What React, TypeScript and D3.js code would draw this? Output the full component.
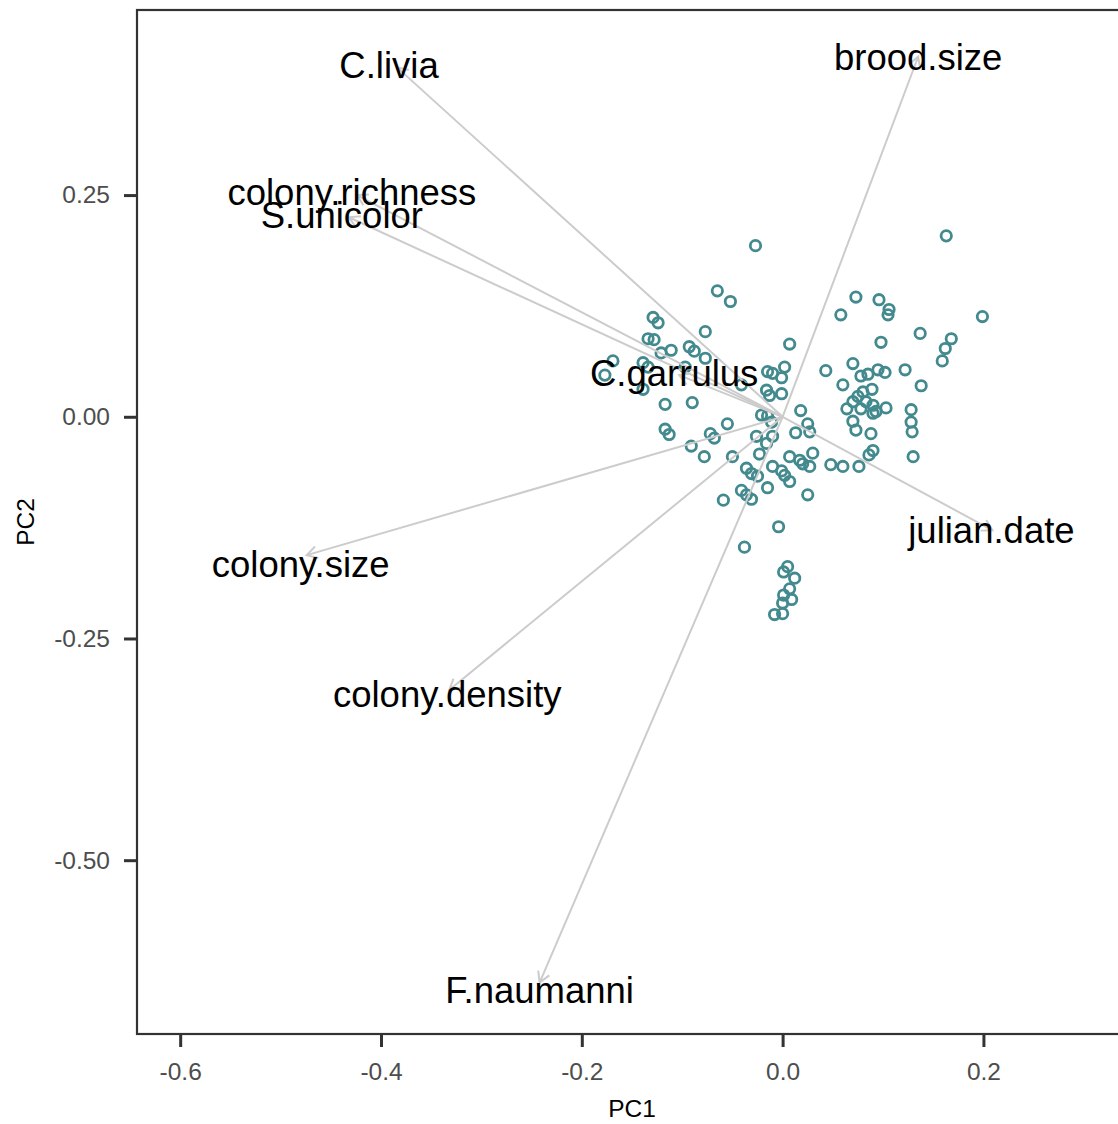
import * as d3 from "d3";
import React, { useRef, useEffect } from "react";

// PCA scores (PC1, PC2)
const scores: [number, number][] = [
  [-0.027, 0.193], [0.163, 0.204], [-0.065, 0.142], [-0.052, 0.13], [0.073, 0.135],
  [0.096, 0.132], [0.106, 0.121], [0.105, 0.115], [0.058, 0.115], [0.199, 0.113],
  [-0.129, 0.112], [-0.124, 0.106], [-0.077, 0.096], [0.137, 0.094], [0.168, 0.088],
  [0.162, 0.077], [0.159, 0.063], [0.098, 0.084], [0.007, 0.082], [-0.134, 0.088],
  [-0.128, 0.087], [-0.093, 0.079], [-0.088, 0.074], [-0.111, 0.075], [-0.121, 0.072],
  [-0.077, 0.066], [-0.169, 0.063], [-0.177, 0.047], [-0.139, 0.061], [-0.134, 0.056],
  [-0.139, 0.031], [-0.117, 0.014], [-0.09, 0.016], [-0.097, 0.056], [-0.041, 0.036],
  [-0.015, 0.051], [-0.01, 0.049], [0.002, 0.056], [-0.001, 0.044], [-0.016, 0.03],
  [-0.013, 0.024], [-0.001, 0.026], [0.043, 0.052], [0.07, 0.06], [0.078, 0.046],
  [0.085, 0.048], [0.095, 0.053], [0.102, 0.05], [0.122, 0.053], [0.06, 0.036],
  [0.089, 0.031], [0.138, 0.035], [0.08, 0.028], [0.075, 0.023], [0.07, 0.017],
  [0.083, 0.017], [0.09, 0.013], [0.064, 0.009], [0.078, 0.009], [0.093, 0.006],
  [0.103, 0.01], [0.128, 0.008], [0.018, 0.007], [-0.021, 0.002], [-0.015, 0.001],
  [-0.011, -0.006], [0.09, 0.004], [0.07, -0.005], [0.073, -0.015], [0.088, -0.019],
  [0.128, -0.006], [0.129, -0.017], [0.13, -0.045], [0.09, -0.038], [0.086, -0.043],
  [0.076, -0.056], [0.06, -0.056], [0.048, -0.054], [0.025, -0.008], [0.027, -0.017],
  [0.013, -0.018], [0.03, -0.041], [0.007, -0.045], [0.017, -0.049], [0.02, -0.053],
  [0.027, -0.056], [0.025, -0.088], [-0.01, -0.022], [-0.026, -0.022], [-0.016, -0.03],
  [-0.023, -0.042], [-0.01, -0.056], [-0.001, -0.061], [0.002, -0.066], [0.007, -0.073],
  [-0.015, -0.08], [-0.036, -0.058], [-0.031, -0.064], [-0.025, -0.067], [-0.041, -0.083],
  [-0.036, -0.088], [-0.031, -0.093], [-0.059, -0.094], [-0.05, -0.045], [-0.055, -0.008],
  [-0.072, -0.019], [-0.068, -0.024], [-0.091, -0.033], [-0.078, -0.045], [-0.117, -0.014],
  [-0.113, -0.02], [-0.004, -0.124], [-0.038, -0.147], [0.005, -0.169], [0.001, -0.175],
  [0.012, -0.182], [0.007, -0.194], [0.001, -0.201], [0.009, -0.206], [0.0, -0.21],
  [-0.008, -0.223], [0.0, -0.222],
];

// variable loadings (arrow tips) and label positions
const varNames = [
  "C.livia", "brood.size", "colony.richness", "S.unicolor", "C.garrulus",
  "colony.size", "colony.density", "julian.date", "F.naumanni",
];
const loadPC1 = [-0.384, 0.135, -0.424, -0.432, -0.103, -0.474, -0.332, 0.209, -0.242];
const loadPC2 = [0.394, 0.406, 0.25, 0.225, 0.047, -0.156, -0.308, -0.128, -0.638];
const labelPC1 = [-0.392, 0.135, -0.429, -0.439, -0.108, -0.48, -0.334, 0.208, -0.242];
const labelPC2 = [0.397, 0.406, 0.253, 0.227, 0.049, -0.166, -0.313, -0.128, -0.646];

const xTicks = [-0.6, -0.4, -0.2, 0.0, 0.2];
const yTicks = [-0.5, -0.25, 0.0, 0.25];

const W = 1118;
const H = 1124;
const FONT = "'Liberation Sans', Arial, sans-serif";

export default function App() {
  const ref = useRef<SVGSVGElement>(null);

  useEffect(() => {
    const svg = d3.select(ref.current);
    svg.selectAll("*").remove();

    const x = d3.scaleLinear().domain([-0.643, 0.343]).range([137, 1127]);
    const y = d3.scaleLinear().domain([-0.696, 0.4587]).range([1034, 10]);

    // points
    svg
      .append("g")
      .selectAll("circle")
      .data(scores)
      .enter()
      .append("circle")
      .attr("cx", d => x(d[0]))
      .attr("cy", d => y(d[1]))
      .attr("r", 5.2)
      .attr("fill", "none")
      .attr("stroke", "#438a8e")
      .attr("stroke-width", 2.8);

    // arrows
    const arrows = svg.append("g");
    varNames.forEach((name, i) => {
      const x0 = x(0);
      const y0 = y(0);
      const x1 = x(loadPC1[i]);
      const y1 = y(loadPC2[i]);
      const ang = Math.atan2(y1 - y0, x1 - x0);
      const len = 12;
      const p = d3.path();
      p.moveTo(x0, y0);
      p.lineTo(x1, y1);
      p.moveTo(x1 - len * Math.cos(ang - Math.PI / 6), y1 - len * Math.sin(ang - Math.PI / 6));
      p.lineTo(x1, y1);
      p.lineTo(x1 - len * Math.cos(ang + Math.PI / 6), y1 - len * Math.sin(ang + Math.PI / 6));
      arrows
        .append("path")
        .attr("d", p.toString())
        .attr("fill", "none")
        .attr("stroke", "#cccccc")
        .attr("stroke-width", 2);
    });

    // variable labels
    svg
      .append("g")
      .selectAll("text")
      .data(varNames)
      .enter()
      .append("text")
      .attr("x", (d, i) => x(labelPC1[i]))
      .attr("y", (d, i) => y(labelPC2[i]) + 13)
      .attr("text-anchor", "middle")
      .attr("font-family", FONT)
      .attr("font-size", 36.5)
      .attr("fill", "black")
      .text(d => d);

    // panel border
    svg
      .append("rect")
      .attr("x", 137)
      .attr("y", 10)
      .attr("width", 1127 - 137)
      .attr("height", 1034 - 10)
      .attr("fill", "none")
      .attr("stroke", "#333333")
      .attr("stroke-width", 2.2);

    // Add X axis
    const gx = svg
      .append("g")
      .attr("transform", "translate(0,1034)")
      .call(
        d3.axisBottom(x)
          .tickValues(xTicks)
          .tickFormat(d => (+d).toFixed(1))
          .tickSize(13)
          .tickPadding(16)
      );
    gx.select(".domain").remove();
    gx.selectAll("line").attr("stroke", "#333333").attr("stroke-width", 3);
    gx.selectAll("text")
      .attr("font-family", FONT)
      .attr("font-size", 24.5)
      .attr("fill", "#4d4d4d");

    // Add Y axis
    const gy = svg
      .append("g")
      .attr("transform", "translate(137,0)")
      .call(
        d3.axisLeft(y)
          .tickValues(yTicks)
          .tickFormat(d => (+d).toFixed(2))
          .tickSize(13)
          .tickPadding(14)
      );
    gy.select(".domain").remove();
    gy.selectAll("line").attr("stroke", "#333333").attr("stroke-width", 3);
    gy.selectAll("text")
      .attr("font-family", FONT)
      .attr("font-size", 24.5)
      .attr("fill", "#4d4d4d");

    // axis titles
    svg
      .append("text")
      .attr("x", (137 + 1127) / 2)
      .attr("y", 1117)
      .attr("text-anchor", "middle")
      .attr("font-family", FONT)
      .attr("font-size", 24.5)
      .attr("fill", "black")
      .text("PC1");

    svg
      .append("text")
      .attr("transform", "translate(34," + (10 + 1034) / 2 + ") rotate(-90)")
      .attr("text-anchor", "middle")
      .attr("font-family", FONT)
      .attr("font-size", 24.5)
      .attr("fill", "black")
      .text("PC2");
  }, []);

  return (
    <div style={{ position: "absolute", left: 0, top: 0, width: W, height: H, overflow: "hidden", background: "white" }}>
      <svg ref={ref} width={W} height={H} style={{ display: "block" }}></svg>
    </div>
  );
}
